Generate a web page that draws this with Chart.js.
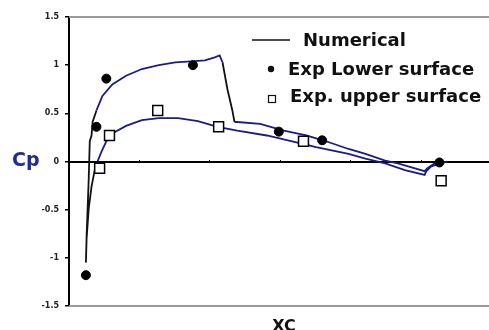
<!DOCTYPE html>
<html>
<head>
<meta charset="utf-8">
<script src="https://cdn.jsdelivr.net/npm/chart.js@4"></script>
<style>
	html, body { margin: 0; padding: 0; background: #fff; overflow: hidden; }
	canvas { display: block; }
</style>
</head>
<body>
<canvas id="chart" width="500" height="330"></canvas>
<script>
// numerical Cp, traced round the section: trailing edge -> lower surface -> leading edge -> upper surface
var numX = [1.074, 1.066, 1.038, 1.018, 1.010, 0.973, 0.934, 0.898, 0.842, 0.794, 0.730, 0.674, 0.610, 0.543, 0.478, 0.470,
	0.464, 0.450, 0.436, 0.428, 0.414, 0.386, 0.347, 0.302, 0.255, 0.207, 0.162, 0.123, 0.095, 0.078, 0.067, 0.064, 0.059,
	0.056, 0.050, 0.048, 0.050, 0.056, 0.064, 0.073, 0.081, 0.092, 0.106, 0.123, 0.162, 0.207, 0.255, 0.310, 0.366, 0.422,
	0.478, 0.562, 0.655, 0.702, 0.794, 0.842, 0.898, 0.954, 1.010, 1.015, 1.029, 1.057];
var numCp = [0, -0.01, -0.02, -0.07, -0.10, -0.06, -0.02, 0.01, 0.08, 0.13, 0.21, 0.27, 0.32, 0.39, 0.41, 0.41,
	0.53, 0.75, 1.03, 1.10, 1.08, 1.05, 1.04, 1.03, 1.00, 0.96, 0.89, 0.80, 0.68, 0.53, 0.41, 0.27, 0.21,
	-0.18, -0.78, -1.05, -0.80, -0.49, -0.26, -0.09, 0, 0.10, 0.21, 0.29, 0.37, 0.43, 0.45, 0.45, 0.42, 0.36,
	0.32, 0.27, 0.19, 0.15, 0.08, 0.03, -0.02, -0.09, -0.14, -0.10, -0.05, -0.02];

// experiments
var lowX = [0.048, 0.078, 0.106, 0.352, 0.596, 0.719, 1.052];
var lowCp = [-1.18, 0.36, 0.86, 1.00, 0.31, 0.22, -0.01];
var upX = [0.087, 0.115, 0.252, 0.425, 0.666, 1.057];
var upCp = [-0.07, 0.27, 0.53, 0.36, 0.21, -0.20];

var yTicks = [-1.5, -1, -0.5, 0, 0.5, 1, 1.5];
var xTicks = [0, 0.2, 0.4, 0.6, 0.8, 1.0, 1.2];

var seriesNames = ['Numerical', 'Exp Lower surface', 'Exp. upper surface'];
var yTitle = 'Cp';
var xTitle = 'XC';

var NAVY = '#1b1b8a';

function pts(xs, ys) {
	return xs.map(function (x, i) { return { x: x, y: ys[i] }; });
}

// grey frame top and bottom, then the texts and the legend
var decor = {
	id: 'decor',
	beforeDatasetsDraw: function (chart) {
		var ctx = chart.ctx, a = chart.chartArea;
		ctx.save();
		ctx.strokeStyle = '#9a9a9a';
		ctx.lineWidth = 2;
		ctx.beginPath();
		ctx.moveTo(a.left, a.top);
		ctx.lineTo(a.right, a.top);
		ctx.moveTo(a.left, a.bottom);
		ctx.lineTo(a.right, a.bottom);
		ctx.stroke();
		ctx.restore();
	},
	afterDraw: function (chart) {
		var ctx = chart.ctx;
		ctx.save();

		ctx.fillStyle = '#1f2c96';
		ctx.font = 'bold 19px "DejaVu Sans"';
		ctx.textBaseline = 'alphabetic';
		ctx.textAlign = 'left';
		ctx.fillText(yTitle, 12, 166);

		ctx.fillStyle = '#111';
		ctx.font = 'bold 16px "DejaVu Sans"';
		ctx.textAlign = 'center';
		ctx.fillText(xTitle, 284, 331);

		// legend
		ctx.textAlign = 'left';
		ctx.font = 'bold 18px "DejaVu Sans"';
		ctx.fillStyle = '#111';

		ctx.strokeStyle = '#111';
		ctx.lineWidth = 1.5;
		ctx.beginPath();
		ctx.moveTo(252, 40);
		ctx.lineTo(290, 40);
		ctx.stroke();
		ctx.fillText(seriesNames[0], 303, 46);

		ctx.beginPath();
		ctx.arc(271, 69, 3.2, 0, Math.PI * 2);
		ctx.fill();
		ctx.fillText(seriesNames[1], 288, 75);

		ctx.fillStyle = '#fff';
		ctx.fillRect(268.5, 95.5, 7, 7);
		ctx.lineWidth = 1.2;
		ctx.strokeRect(268.5, 95.5, 7, 7);
		ctx.fillStyle = '#111';
		ctx.fillText(seriesNames[2], 290, 102);

		ctx.restore();
	}
};

var chart = new Chart(document.getElementById('chart'), {
	type: 'scatter',
	data: {
		datasets: [{
			label: seriesNames[1],
			data: pts(lowX, lowCp),
			pointStyle: 'circle',
			pointRadius: 4.5,
			pointBackgroundColor: '#000',
			pointBorderColor: '#000',
			order: 1
		}, {
			label: seriesNames[2],
			data: pts(upX, upCp),
			pointStyle: 'rect',
			pointRadius: 7,
			pointBackgroundColor: '#fff',
			pointBorderColor: '#000',
			pointBorderWidth: 1.5,
			order: 1
		}, {
			label: seriesNames[0],
			data: pts(numX, numCp),
			showLine: true,
			pointRadius: 0,
			borderColor: NAVY,
			borderWidth: 1.8,
			tension: 0,
			order: 3,
			segment: {
				// the steep parts come out black in the original
				borderColor: function (c) {
					var dx = Math.abs(c.p1.x - c.p0.x), dy = Math.abs(c.p1.y - c.p0.y);
					return dy > 2.5 * dx ? '#111' : NAVY;
				}
			}
		}]
	},
	options: {
		responsive: false,
		animation: false,
		layout: { padding: { left: 0, top: 17, right: 2, bottom: 24 } },
		plugins: {
			legend: { display: false },
			tooltip: { enabled: false }
		},
		scales: {
			x: {
				type: 'linear',
				position: { y: 0 },
				min: 0,
				max: 1.2,
				afterBuildTicks: function (s) { s.ticks = xTicks.map(function (v) { return { value: v }; }); },
				ticks: { display: false },
				grid: { display: true, drawOnChartArea: false, drawTicks: true, tickLength: -3, color: '#000', lineWidth: 1 },
				border: { display: true, color: '#000', width: 2 }
			},
			y: {
				min: -1.5,
				max: 1.5,
				afterBuildTicks: function (s) { s.ticks = yTicks.map(function (v) { return { value: v }; }); },
				afterFit: function (s) { s.width = 69; },
				ticks: {
					color: '#222',
					padding: 6,
					font: { family: 'DejaVu Sans', size: 8, weight: 'bold' },
					callback: function (v) { return String(v); }
				},
				grid: { display: true, drawOnChartArea: false, drawTicks: true, tickLength: 4, color: '#000', lineWidth: 1.5 },
				border: { display: true, color: '#000', width: 2 }
			}
		}
	},
	plugins: [decor]
});
</script>
</body>
</html>
